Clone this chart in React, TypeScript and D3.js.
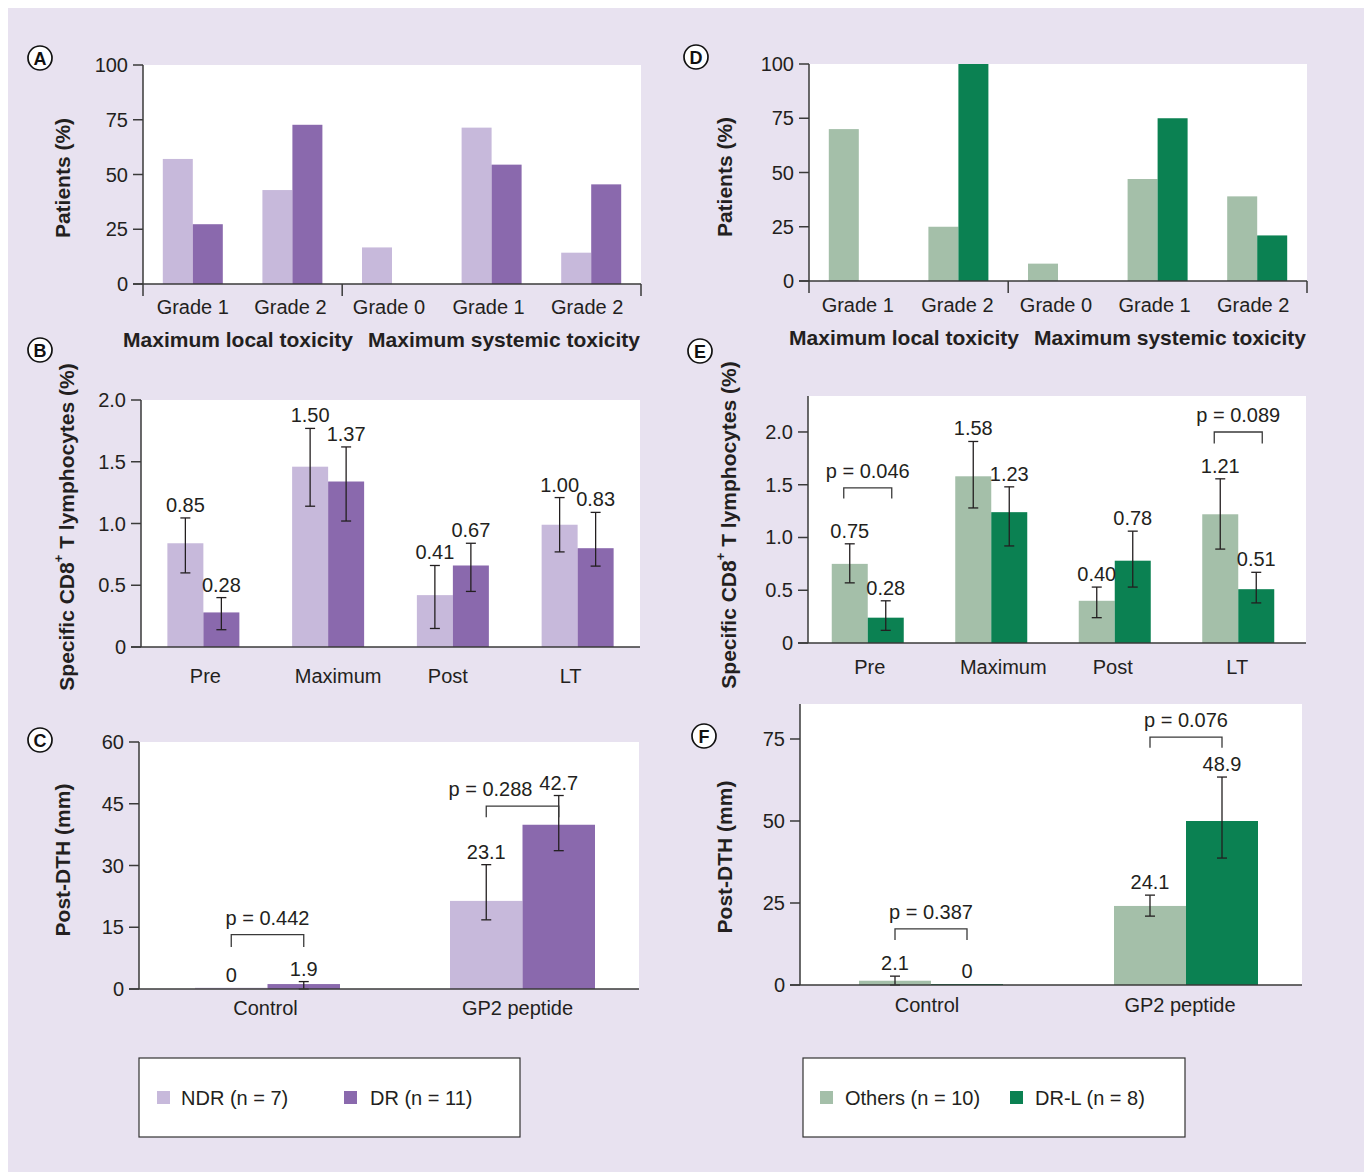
import React from "react";
import * as d3 from "d3";

// ---------- data ----------
const toxCategories = ["Grade 1", "Grade 2", "Grade 0", "Grade 1", "Grade 2"];
const toxGroups = ["Maximum local toxicity", "Maximum systemic toxicity"];
const toxTicks = [0, 25, 50, 75, 100];
const ndrTox = [57.1, 42.9, 16.7, 71.4, 14.3];
const drTox = [27.3, 72.7, 0, 54.5, 45.5];
const othersTox = [70, 25, 8, 47, 39];
const drlTox = [0, 100, 0, 75, 21];

const timepoints = ["Pre", "Maximum", "Post", "LT"];
const cd8Ticks = [0, 0.5, 1.0, 1.5, 2.0];
const ndrCd8 = [0.84, 1.46, 0.42, 0.99];
const ndrCd8Lo = [0.6, 1.14, 0.15, 0.77];
const ndrCd8Hi = [1.045, 1.77, 0.66, 1.21];
const ndrCd8Labels = ["0.85", "1.50", "0.41", "1.00"];
const drCd8 = [0.28, 1.34, 0.66, 0.8];
const drCd8Lo = [0.14, 1.02, 0.45, 0.655];
const drCd8Hi = [0.4, 1.62, 0.84, 1.09];
const drCd8Labels = ["0.28", "1.37", "0.67", "0.83"];

const othersCd8 = [0.75, 1.58, 0.4, 1.22];
const othersCd8Lo = [0.57, 1.28, 0.24, 0.89];
const othersCd8Hi = [0.94, 1.91, 0.53, 1.556];
const othersCd8Labels = ["0.75", "1.58", "0.40", "1.21"];
const drlCd8 = [0.24, 1.24, 0.78, 0.51];
const drlCd8Lo = [0.12, 0.92, 0.53, 0.38];
const drlCd8Hi = [0.4, 1.48, 1.06, 0.67];
const drlCd8Labels = ["0.28", "1.23", "0.78", "0.51"];

const dthCategories = ["Control", "GP2 peptide"];
const dthTicksC = [0, 15, 30, 45, 60];
const dthTicksF = [0, 25, 50, 75];
const ndrDth = [0.3, 21.4];
const ndrDthLo = [null, 16.8];
const ndrDthHi = [null, 30.2];
const ndrDthLabels = ["0", "23.1"];
const drDth = [1.2, 39.9];
const drDthLo = [0, 33.6];
const drDthHi = [1.8, 47.0];
const drDthLabels = ["1.9", "42.7"];

const othersDth = [1.3, 24.1];
const othersDthLo = [0, 21.0];
const othersDthHi = [2.7, 27.4];
const othersDthLabels = ["2.1", "24.1"];
const drlDth = [0.3, 50.0];
const drlDthLo = [null, 38.7];
const drlDthHi = [null, 63.4];
const drlDthLabels = ["0", "48.9"];

const bracketsE = [
  { cat: 0, text: "p = 0.046", y: 1.47, leg: 1.37, dx: 0 },
  { cat: 3, text: "p = 0.089", y: 2.0, leg: 1.89, dx: 0 },
];
const bracketsC = [
  { cat: 0, text: "p = 0.442", y: 13.2, leg: 10.2, dx: 0 },
  { cat: 1, text: "p = 0.288", y: 44.4, leg: 41.7, dx: -32 },
];
const bracketsF = [
  { cat: 0, text: "p = 0.387", y: 17.1, leg: 13.7, dx: 0 },
  { cat: 1, text: "p = 0.076", y: 75.6, leg: 72.3, dx: 0 },
];

const legendLeft = ["NDR (n = 7)", "DR (n = 11)"];
const legendRight = ["Others (n = 10)", "DR-L (n = 8)"];

// ---------- style ----------
const FONT = "'Liberation Sans', Arial, Helvetica, sans-serif";
const TEXT = "#231f20";
const AXIS = "#3a3a3a";
const BG = "#e8e2f0";
const C_NDR = "#c7b9db";
const C_DR = "#8a69ad";
const C_OTH = "#a4bfa9";
const C_DRL = "#0b8152";

type Series = {
  values: number[];
  lo?: (number | null)[];
  hi?: (number | null)[];
  labels?: string[];
  color: string;
};
type Bracket = { cat: number; text: string; y: number; leg: number; dx: number };

function Panel(props: {
  cats: string[];
  series: Series[];
  x0: number;
  x1: number;
  yTop: number;
  yZero: number;
  yMax: number;
  ticks: number[];
  fmt: (v: number) => string;
  band: [number, number];
  barW: number;
  catY: number;
  catDx?: number[];
  brackets?: Bracket[];
  inset?: number;
  sepIdx?: number[];
}) {
  const { cats, series, x0, x1, yTop, yZero, yMax, ticks, fmt, band, barW, catY } = props;
  const y = d3.scaleLinear().domain([0, yMax]).range([yZero, yTop]);
  const xb = d3.scaleBand<number>().domain(d3.range(cats.length)).range(band);
  const ns = series.length;
  const barX = (ci: number, si: number) =>
    (xb(ci) as number) + xb.bandwidth() / 2 - (barW * ns) / 2 + si * barW;
  const barC = (ci: number, si: number) => barX(ci, si) + barW / 2;
  const inset = props.inset ?? 0;
  const catDx = props.catDx || [];
  return (
    <g>
      <rect x={x0} y={yTop} width={x1 - x0} height={yZero - yTop} fill="#fff" />
      {series.map((s, si) =>
        s.values.map((v, ci) =>
          v > 0 ? (
            <rect
              key={`b${si}-${ci}`}
              x={barX(ci, si)}
              y={y(v)}
              width={barW}
              height={yZero - y(v)}
              fill={s.color}
            />
          ) : null
        )
      )}
      {series.map((s, si) =>
        s.values.map((v, ci) => {
          const lo = s.lo ? s.lo[ci] : null;
          const hi = s.hi ? s.hi[ci] : null;
          if (lo == null || hi == null) return null;
          const cx = barC(ci, si);
          return (
            <g key={`e${si}-${ci}`} stroke={TEXT} strokeWidth={1.3}>
              <line x1={cx} x2={cx} y1={y(lo)} y2={y(hi)} />
              <line x1={cx - 5} x2={cx + 5} y1={y(lo)} y2={y(lo)} />
              <line x1={cx - 5} x2={cx + 5} y1={y(hi)} y2={y(hi)} />
            </g>
          );
        })
      )}
      {series.map((s, si) =>
        s.labels
          ? s.labels.map((lab, ci) => {
              const hi = s.hi ? s.hi[ci] : null;
              const top = y(hi != null ? hi : s.values[ci]);
              return (
                <text
                  key={`l${si}-${ci}`}
                  x={barC(ci, si)}
                  y={top - 6}
                  textAnchor="middle"
                  fontSize={20}
                  fill={TEXT}
                >
                  {lab}
                </text>
              );
            })
          : null
      )}
      {(props.brackets || []).map((b, i) => {
        const xa = barC(b.cat, 0) - inset;
        const xz = barC(b.cat, 1) + inset;
        return (
          <g key={`br${i}`}>
            <path
              d={`M${xa},${y(b.leg)}V${y(b.y)}H${xz}V${y(b.leg)}`}
              fill="none"
              stroke={AXIS}
              strokeWidth={1.3}
            />
            <text x={(xa + xz) / 2 + b.dx} y={y(b.y) - 10} textAnchor="middle" fontSize={20} fill={TEXT}>
              {b.text}
            </text>
          </g>
        );
      })}
      {/* axes */}
      <line x1={x0} x2={x0} y1={yTop} y2={yZero} stroke={AXIS} strokeWidth={1.5} />
      <line x1={x0 - 10} x2={x1} y1={yZero} y2={yZero} stroke={AXIS} strokeWidth={1.5} />
      {ticks.map((t) => (
        <g key={`t${t}`}>
          <line x1={x0 - 10} x2={x0} y1={y(t)} y2={y(t)} stroke={AXIS} strokeWidth={1.5} />
          <text
            x={x0 - 15}
            y={y(t)}
            textAnchor="end"
            dominantBaseline="central"
            fontSize={20}
            fill={TEXT}
          >
            {fmt(t)}
          </text>
        </g>
      ))}
      {(props.sepIdx || []).map((k) => {
        const sx = k >= cats.length ? band[1] : (xb(k) as number);
        return <line key={`s${k}`} x1={sx} x2={sx} y1={yZero} y2={yZero + 12} stroke={AXIS} strokeWidth={1.5} />;
      })}
      {cats.map((c, ci) => (
        <text
          key={`c${ci}`}
          x={(xb(ci) as number) + xb.bandwidth() / 2 + (catDx[ci] || 0)}
          y={catY}
          textAnchor="middle"
          fontSize={20}
          fill={TEXT}
        >
          {c}
        </text>
      ))}
    </g>
  );
}

function Letter({ x, y, ch }: { x: number; y: number; ch: string }) {
  return (
    <g>
      <circle cx={x} cy={y} r={12} fill="#fff" stroke="#111" strokeWidth={1.7} />
      <text x={x} y={y + 1} textAnchor="middle" dominantBaseline="central" fontSize={18} fontWeight="bold" fill="#111">
        {ch}
      </text>
    </g>
  );
}

function YTitle({ x, y, children }: { x: number; y: number; children: React.ReactNode }) {
  return (
    <text
      transform={`translate(${x},${y}) rotate(-90)`}
      textAnchor="middle"
      dominantBaseline="central"
      fontSize={21}
      fontWeight="bold"
      fill={TEXT}
    >
      {children}
    </text>
  );
}

const cd8Title = (
  <>
    Specific CD8
    <tspan dy={-8} fontSize={13}>
      +
    </tspan>
    <tspan dy={8}> T lymphocytes (%)</tspan>
  </>
);

function Legend({ x, y, w, h, labels, colors, sw, tx }: any) {
  return (
    <g>
      <rect x={x} y={y} width={w} height={h} fill="#fff" stroke="#333" strokeWidth={1.2} />
      {labels.map((l: string, i: number) => (
        <g key={l}>
          <rect x={sw[i]} y={y + 33} width={13} height={13} fill={colors[i]} />
          <text x={tx[i]} y={y + 40} dominantBaseline="central" fontSize={20} fill={TEXT}>
            {l}
          </text>
        </g>
      ))}
    </g>
  );
}

export default function App() {
  const fmtInt = (v: number) => String(v);
  const fmt1 = (v: number) => (v === 0 ? "0" : v.toFixed(1));
  const sepTox = [0, 2, 5];
  return (
    <svg width={1364} height={1164} style={{ display: "block" }} fontFamily={FONT}>
      <g transform="translate(-8,-8)">
        <rect x={8} y={8} width={1364} height={1164} fill={BG} />

        {/* A */}
        <Panel
          cats={toxCategories}
          series={[
            { values: ndrTox, color: C_NDR },
            { values: drTox, color: C_DR },
          ]}
          x0={143}
          x1={641}
          yTop={65}
          yZero={284}
          yMax={100}
          ticks={toxTicks}
          fmt={fmtInt}
          band={[143, 641]}
          barW={30}
          catY={314}
          catDx={[0, -2, -3, -3, -4]}
          sepIdx={sepTox}
        />
        <text x={238} y={347} textAnchor="middle" fontSize={21} fontWeight="bold" fill={TEXT}>
          {toxGroups[0]}
        </text>
        <text x={640} y={347} textAnchor="end" fontSize={21} fontWeight="bold" fill={TEXT}>
          {toxGroups[1]}
        </text>
        <YTitle x={62} y={178}>Patients (%)</YTitle>
        <Letter x={40} y={58} ch="A" />

        {/* D */}
        <Panel
          cats={toxCategories}
          series={[
            { values: othersTox, color: C_OTH },
            { values: drlTox, color: C_DRL },
          ]}
          x0={809}
          x1={1307}
          yTop={64}
          yZero={281}
          yMax={100}
          ticks={toxTicks}
          fmt={fmtInt}
          band={[809, 1307]}
          barW={30}
          catY={312}
          catDx={[-1, -1, -2, -3, -4]}
          sepIdx={sepTox}
        />
        <text x={904} y={345} textAnchor="middle" fontSize={21} fontWeight="bold" fill={TEXT}>
          {toxGroups[0]}
        </text>
        <text x={1306} y={345} textAnchor="end" fontSize={21} fontWeight="bold" fill={TEXT}>
          {toxGroups[1]}
        </text>
        <YTitle x={724} y={177}>Patients (%)</YTitle>
        <Letter x={696} y={57} ch="D" />

        {/* B */}
        <Panel
          cats={timepoints}
          series={[
            { values: ndrCd8, lo: ndrCd8Lo, hi: ndrCd8Hi, labels: ndrCd8Labels, color: C_NDR },
            { values: drCd8, lo: drCd8Lo, hi: drCd8Hi, labels: drCd8Labels, color: C_DR },
          ]}
          x0={141}
          x1={640}
          yTop={400}
          yZero={647}
          yMax={2.0}
          ticks={cd8Ticks}
          fmt={fmt1}
          band={[141, 640]}
          barW={36}
          catY={683}
          catDx={[2, 10, -5, -7]}
        />
        <YTitle x={66} y={527}>{cd8Title}</YTitle>
        <Letter x={40} y={350} ch="B" />

        {/* E */}
        <Panel
          cats={timepoints}
          series={[
            { values: othersCd8, lo: othersCd8Lo, hi: othersCd8Hi, labels: othersCd8Labels, color: C_OTH },
            { values: drlCd8, lo: drlCd8Lo, hi: drlCd8Hi, labels: drlCd8Labels, color: C_DRL },
          ]}
          x0={808}
          x1={1306}
          yTop={396}
          yZero={643}
          yMax={2.341}
          ticks={cd8Ticks}
          fmt={fmt1}
          band={[806, 1300]}
          barW={36}
          catY={674}
          catDx={[2, 12, -2, -1]}
          brackets={bracketsE}
          inset={6}
        />
        <YTitle x={728} y={525}>{cd8Title}</YTitle>
        <Letter x={700} y={351} ch="E" />

        {/* C */}
        <Panel
          cats={dthCategories}
          series={[
            { values: ndrDth, lo: ndrDthLo, hi: ndrDthHi, labels: ndrDthLabels, color: C_NDR },
            { values: drDth, lo: drDthLo, hi: drDthHi, labels: drDthLabels, color: C_DR },
          ]}
          x0={139}
          x1={639}
          yTop={742}
          yZero={989}
          yMax={60}
          ticks={dthTicksC}
          fmt={fmtInt}
          band={[140, 650]}
          barW={72.5}
          catY={1015}
          catDx={[-2, -5]}
          brackets={bracketsC}
        />
        <YTitle x={62} y={860}>Post-DTH (mm)</YTitle>
        <Letter x={40} y={740} ch="C" />

        {/* F */}
        <Panel
          cats={dthCategories}
          series={[
            { values: othersDth, lo: othersDthLo, hi: othersDthHi, labels: othersDthLabels, color: C_OTH },
            { values: drlDth, lo: drlDthLo, hi: drlDthHi, labels: drlDthLabels, color: C_DRL },
          ]}
          x0={800}
          x1={1302}
          yTop={704}
          yZero={985}
          yMax={85.67}
          ticks={dthTicksF}
          fmt={fmtInt}
          band={[803.5, 1313.5]}
          barW={72}
          catY={1012}
          catDx={[-4, -6]}
          brackets={bracketsF}
        />
        <YTitle x={724} y={857}>Post-DTH (mm)</YTitle>
        <Letter x={704} y={736} ch="F" />

        {/* legends */}
        <Legend
          x={139}
          y={1058}
          w={381}
          h={79}
          labels={legendLeft}
          colors={[C_NDR, C_DR]}
          sw={[157, 344]}
          tx={[181, 370]}
        />
        <Legend
          x={803}
          y={1058}
          w={382}
          h={79}
          labels={legendRight}
          colors={[C_OTH, C_DRL]}
          sw={[820, 1010]}
          tx={[845, 1035]}
        />
      </g>
    </svg>
  );
}
